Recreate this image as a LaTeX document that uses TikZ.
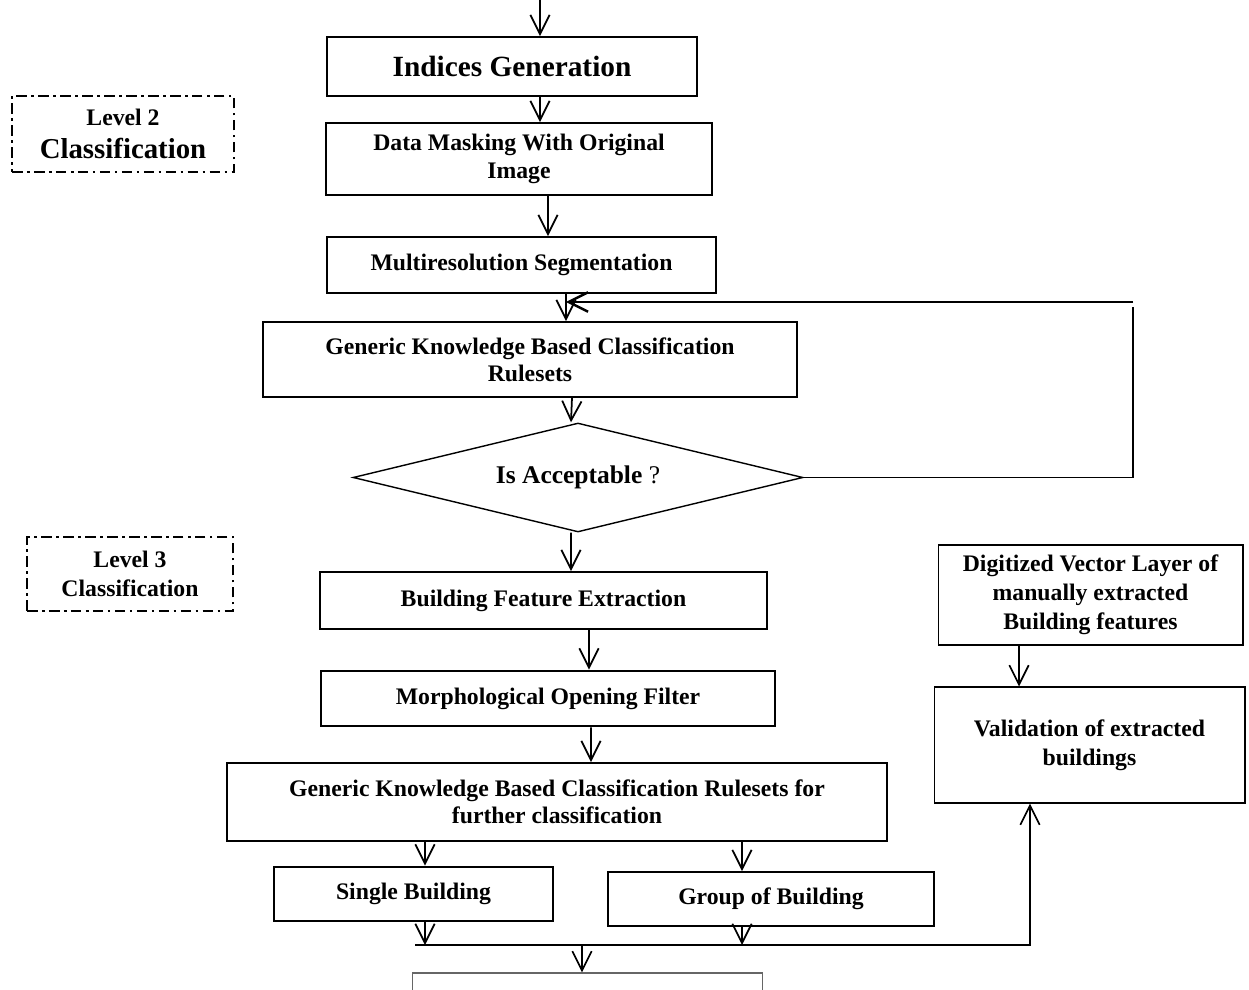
\documentclass[tikz,border=0pt]{standalone}
\usepackage{fontspec}
\setmainfont{Liberation Serif}
\usetikzlibrary{arrows.meta, shapes.geometric}
\newcommand{\boxfont}{\fontsize{13.5}{15.5}\selectfont\bfseries}

\begin{document}
\begin{tikzpicture}[
    x=0.02cm, y=-0.02cm,
    % ── Box styles ──
    box/.style={rectangle, draw, line width=1pt, align=center,
                font=\boxfont, inner sep=2pt},
    thickbox/.style={box, line width=1.6pt},
    thinbox/.style={box, line width=0.6pt, font=\fontsize{13.5}{16.5}\selectfont\bfseries},
    finalbox/.style={rectangle, draw=black!60, line width=0.6pt},
    lvl/.style={rectangle, draw, line width=0.9pt,
                dash pattern=on 6pt off 2.5pt on 1.5pt off 2.5pt,
                align=center, font=\fontsize{13.5}{16.5}\selectfont\bfseries},
    dec/.style={diamond, draw, line width=0.8pt, inner sep=0pt, aspect=4.1,
                font=\fontsize{14.5}{16}\selectfont},
    arr/.style={-{Straight Barb[length=11pt, width=11pt]}, line width=1pt},
    fbarr/.style={arr, line width=1.4pt},
    link/.style={line width=0.8pt}
]
\fill[white] (0,0) rectangle (1249,990);
\useasboundingbox (0,0) rectangle (1249,990);

% ═══ Main column ═══
\node[box, font=\fontsize{16.7}{19}\selectfont\bfseries,
      minimum width=7.40cm, minimum height=1.18cm] (idx) at (512,66.5) {Indices Generation};
\node[box, font=\fontsize{13.5}{16}\selectfont\bfseries,
      minimum width=7.72cm, minimum height=1.44cm] (mask) at (519,159)
  {Data Masking With Original\\Image};
\node[box, minimum width=7.78cm, minimum height=1.12cm] (seg) at (521.5,265)
  {Multiresolution Segmentation};
\node[box, minimum width=10.68cm, minimum height=1.50cm] (gen1) at (530,359.5)
  {Generic Knowledge Based Classification\\Rulesets};
\node[dec, minimum width=9.0cm, minimum height=2.18cm] (dia) at (578,477.5)
  {\textbf{Is Acceptable} ?};
\node[box, minimum width=8.94cm, minimum height=1.14cm] (feat) at (543.5,600.5)
  {Building Feature Extraction};
\node[thickbox, minimum width=9.08cm, minimum height=1.10cm] (morph) at (548,698.5)
  {Morphological Opening Filter};
\node[box, minimum width=13.2cm, minimum height=1.56cm] (gen2) at (557,802)
  {Generic Knowledge Based Classification Rulesets for\\further classification};
\node[thickbox, minimum width=5.58cm, minimum height=1.08cm] (single) at (413.5,894)
  {Single Building};
\node[box, minimum width=6.52cm, minimum height=1.08cm] (group) at (771,899)
  {Group of Building};
\node[finalbox, minimum width=7.02cm, minimum height=1.0cm] (final) at (587.5,998) {};

% ═══ Validation column ═══
\node[thinbox, minimum width=6.10cm, minimum height=2.0cm] (digit) at (1090.5,595)
  {Digitized Vector Layer of\\manually extracted\\Building features};
\node[thinbox, minimum width=6.22cm, minimum height=2.32cm] (valid) at (1089.5,745)
  {Validation of extracted\\buildings};

% ═══ Level labels ═══
\node[lvl, font=\fontsize{13.5}{19}\selectfont\bfseries,
      minimum width=4.44cm, minimum height=1.52cm] (lv2) at (123,134)
  {Level 2\\{\fontsize{16.4}{19}\selectfont Classification}};
\node[lvl, minimum width=4.12cm, minimum height=1.48cm] (lv3) at (130,574)
  {Level 3\\Classification};

% ═══ Free ends ═══
\coordinate (top) at (540,-2);
\coordinate (fbT) at (1133,302);
\coordinate (fbB) at (1133,307);
\coordinate (jL)  at (415,945);
\coordinate (jR)  at (1030,945);

% ═══ Main-flow arrows ═══
\draw[arr] (top) -- ([xshift=0.56cm]idx.north);
\draw[arr] ([xshift=0.56cm]idx.south) -- ([xshift=0.42cm]mask.north);
\draw[arr] ([xshift=0.58cm]mask.south) -- ([xshift=0.53cm]seg.north);
\draw[arr] ([xshift=0.89cm]seg.south) -- ([xshift=0.72cm]gen1.north);
\draw[arr] ([xshift=0.84cm]gen1.south) -- ([xshift=-0.14cm]dia.north);
\draw[arr] ([xshift=-0.14cm]dia.south) -- ([xshift=0.55cm]feat.north);
\draw[arr] ([xshift=0.91cm]feat.south) -- ([xshift=0.82cm]morph.north);
\draw[arr] ([xshift=0.86cm]morph.south) -- ([xshift=0.68cm]gen2.north);
\draw[arr] ([xshift=-2.64cm]gen2.south) -- ([xshift=0.23cm]single.north);
\draw[arr] ([xshift=3.70cm]gen2.south) -- ([xshift=-0.58cm]group.north);

% ═══ Feedback loop ═══
\draw[link] (dia.east) -| (fbB);
\draw[fbarr] (fbT) -- ([xshift=0.89cm]seg.south |- fbT);

% ═══ Join and validation ═══
\draw[arr] ([xshift=0.23cm]single.south) -- ([xshift=0.23cm]single.south |- jL);
\draw[arr] ([xshift=-0.58cm]group.south) -- ([xshift=-0.58cm]group.south |- jL);
\draw[arr] (jL) -- (jR) -- (jR |- valid.south);
\draw[arr] ([xshift=-0.11cm]final.north |- jL) -- ([xshift=-0.11cm]final.north);
\draw[arr] ([xshift=-1.43cm]digit.south) -- ([xshift=-1.41cm]valid.north);

\end{tikzpicture}
\end{document}
